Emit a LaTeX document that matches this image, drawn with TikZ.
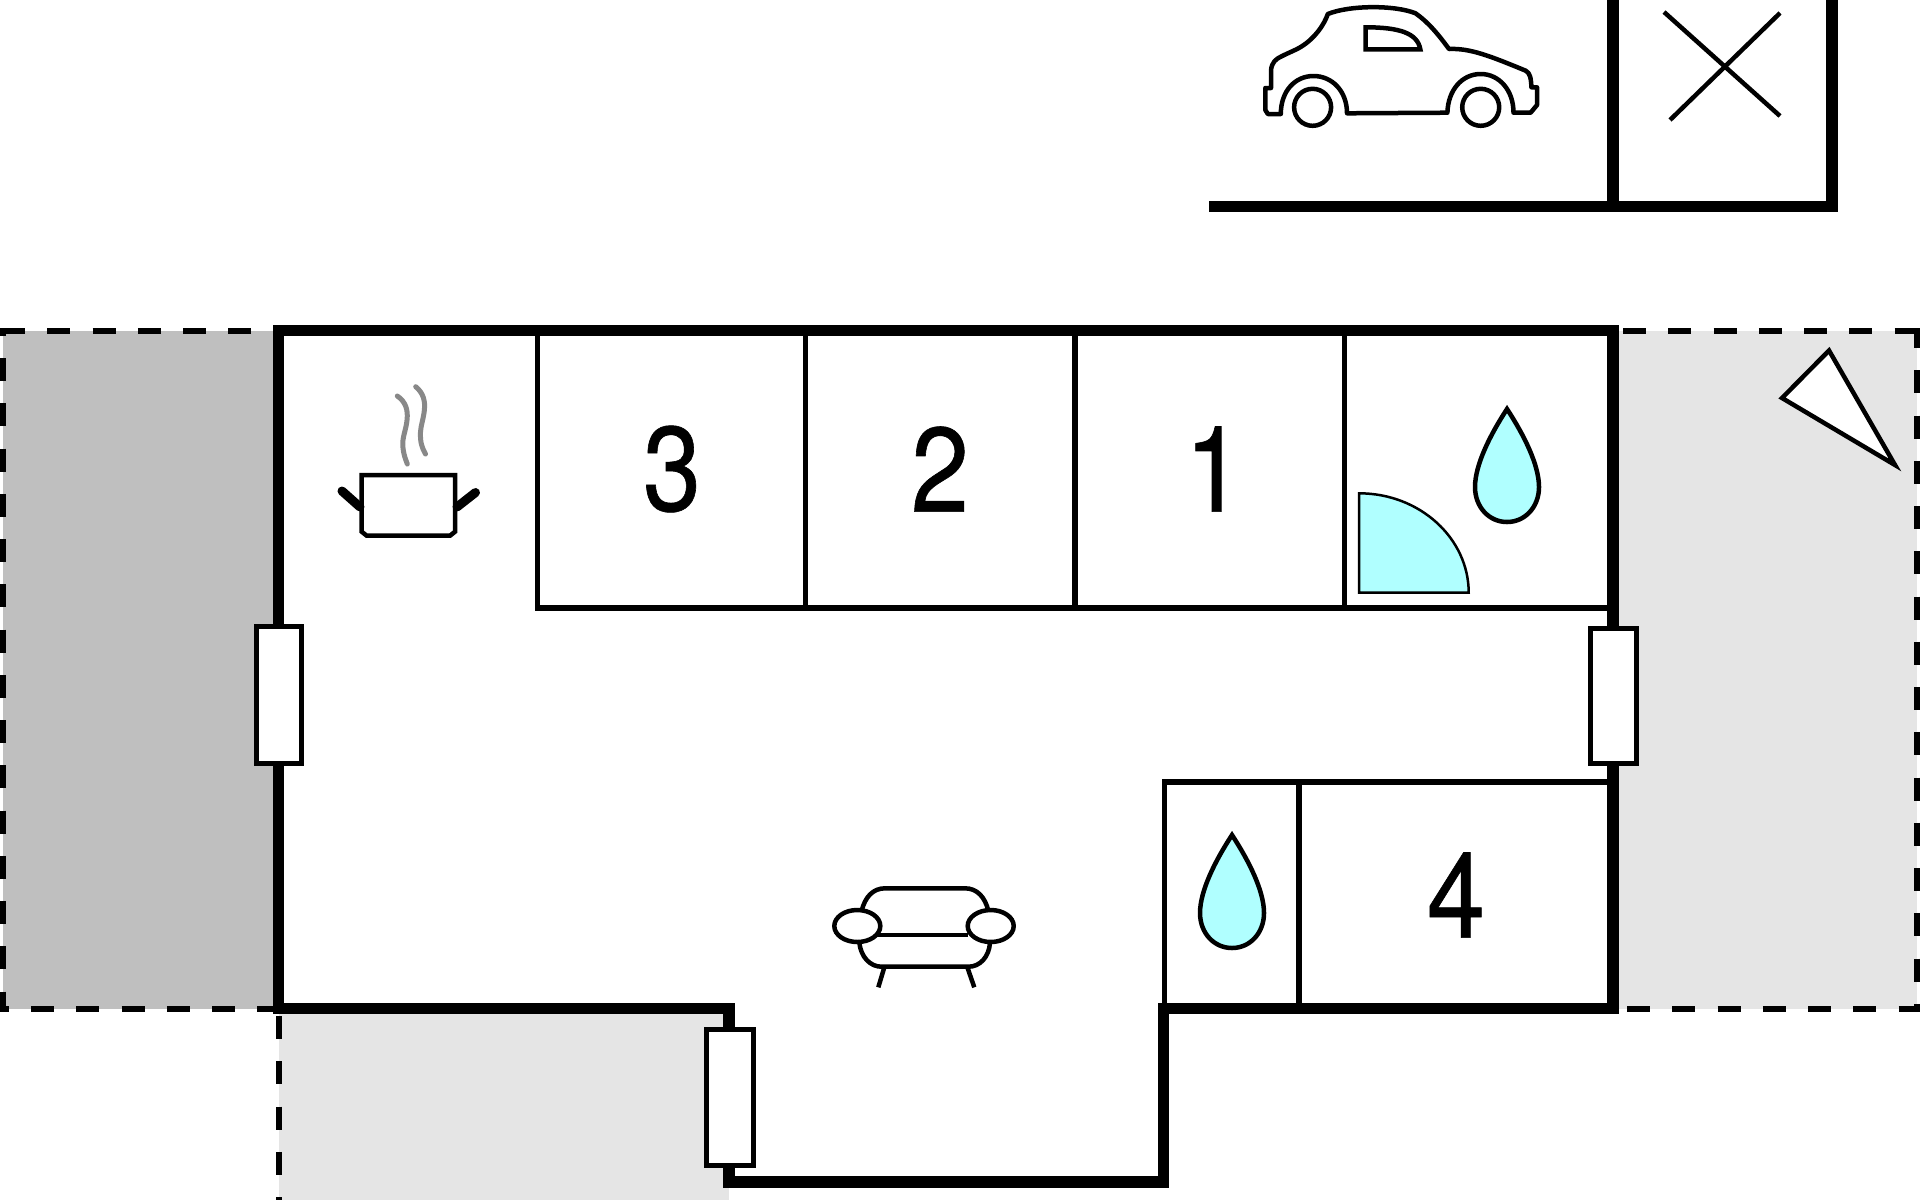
\documentclass[tikz,border=0pt]{standalone}
\usepackage{fontspec}
\setmainfont{Liberation Sans}
\newfontfamily\digitfont[FakeStretch=0.87, FakeBold=0.5]{TeX Gyre Heros}

\definecolor{terracedark}{HTML}{BFBFBF}
\definecolor{terracelight}{HTML}{E5E5E5}
\definecolor{wetblue}{HTML}{B0FFFF}
\definecolor{steamgrey}{HTML}{888888}

\tikzset{
    wall/.style={line width=5.75pt, line join=miter},
    partition/.style={line width=2.75pt},
    boundary/.style={line width=3pt, dash pattern=on 11.5pt off 11.125pt},
    casement/.style={line width=2.5pt, fill=white},
    symbolline/.style={line width=2.25pt},
    digit/.style={inner sep=0pt, font=\digitfont\fontsize{60}{60}\selectfont},
    waterdrop/.pic={
        \filldraw[symbolline, fill=wetblue] (0, 0) .. controls (-17, 26) and (-32, 56) .. (-32, 78)
            .. controls (-32, 98) and (-18, 113) .. (0, 113)
            .. controls (18, 113) and (32, 98) .. (32, 78)
            .. controls (32, 56) and (17, 26) .. cycle;
    }
}

\begin{document}
\begin{tikzpicture}[x=0.5pt, y=-0.5pt]
        \useasboundingbox (0, 0) rectangle (1920, 1200);

        \fill[terracedark] (3, 331) rectangle (279, 1008.5);
        \fill[terracelight] (1613, 331) rectangle (1917, 1009);
        \fill[terracelight] (279, 1008) rectangle (729, 1200);

        \draw[boundary] (2, 331) to (272, 331);
        \draw[boundary, dash phase=7.6pt] (2.8, 328) to (2.8, 1011);
        \draw[boundary, dash phase=7.1pt] (0, 1008.5) to (280, 1008.5);
        \draw[boundary] (1623, 331) to (1917.5, 331);
        \draw[boundary, dash phase=1.5pt] (1917, 328) to (1917, 1011);
        \draw[boundary] (1627, 1008.5) to (1920, 1008.5);
        \draw[boundary] (279, 1016) to (279, 1200);

        \draw[partition] (537.5, 331) to (537.5, 608) to (1613, 608);
        \draw[partition] (805.7, 331) to (805.7, 608);
        \draw[partition] (1075, 331) to (1075, 608);
        \draw[partition] (1344.5, 331) to (1344.5, 608);
        \draw[partition] (1164.5, 1008) to (1164.5, 782) to (1613, 782);
        \draw[partition] (1299, 782) to (1299, 1008);

        \draw[wall] (278.5, 330.5) to (1613, 330.5) to (1613, 1008.5) to (1163.5, 1008.5) to (1163.5, 1182)
            to (729, 1182) to (729, 1008.5) to (278.5, 1008.5) to cycle;

        \draw[casement] (256.5, 626) rectangle (301, 763);
        \draw[casement] (1590, 628) rectangle (1636, 763.5);
        \draw[casement] (706.5, 1029) rectangle (753, 1165);

        \node[digit] (room3) at (672, 469) {3};
        \node[digit] (room2) at (940, 469) {2};
        \node[digit] (room1) at (1214, 469) {1};
        \node[digit] (room4) at (1456, 895) {4};

        \pic at (1507, 409) {waterdrop};
        \pic at (1232, 835) {waterdrop};
        \filldraw[line width=1.25pt, fill=wetblue] (1359.2, 493.3) .. controls (1419.7, 493.3) and (1468.7, 538.2) .. (1468.7, 592.7)
            to (1359.2, 592.7) to cycle;

        \filldraw[symbolline, fill=white] (1829, 350.5) to (1782, 398) to (1895, 465) to cycle;

        \draw[symbolline] (361.7, 475) to (455, 475) to (455, 531.7) to (450, 535.7) to (366.7, 535.7) to (361.7, 531.7) to cycle;
        \draw[line width=4.5pt, line cap=round] (342, 491) to (360, 507);
        \draw[line width=4.5pt, line cap=round] (475.5, 492.5) to (457, 507);
        \draw[steamgrey, line width=2.5pt, line cap=round] (397.3, 396) .. controls (415, 408) and (404, 430) .. (403, 440) .. controls (402, 450) and (405, 458) .. (407.3, 464);
        \draw[steamgrey, line width=2.5pt, line cap=round] (415.7, 386.7) .. controls (432, 400) and (421, 420) .. (420.5, 432) .. controls (420, 442) and (422, 448) .. (425.5, 454);

        \draw[symbolline] (861.7, 910.7) .. controls (865, 897) and (873, 888.3) .. (885, 888.3) to (965, 888.3)
            .. controls (977, 888.3) and (985, 897) .. (988.3, 910.7);
        \draw[symbolline] (878.3, 935) to (968.3, 935);
        \draw[symbolline] (859.3, 942.7) .. controls (861, 957) and (870, 966.7) .. (881.7, 966.7) to (968.3, 966.7)
            .. controls (980, 966.7) and (989, 957) .. (990, 942.7);
        \draw[symbolline] (884, 968.3) to (878.3, 987.3);
        \draw[symbolline] (967.7, 968.3) to (974.3, 987.3);
        \draw[symbolline] (857.3, 926) ellipse (23 and 16);
        \draw[symbolline] (990.7, 926) ellipse (23 and 16);

        \draw[wall] (1613, 0) to (1613, 206.5);
        \draw[wall] (1832, 0) to (1832, 206.5) to (1209, 206.5);
        \draw[symbolline] (1664, 12) to (1780, 116);
        \draw[symbolline] (1780, 13) to (1670, 120);

        \draw[symbolline, line join=round] (1280.8, 114) to (1267.8, 114) to (1265.3, 110) to (1265.3, 88) to (1271, 88) to (1271, 70)
            .. controls (1272, 62) and (1276, 59) .. (1280.8, 56.7)
            .. controls (1290, 52) and (1296, 50) .. (1301.2, 46.7)
            .. controls (1315, 38) and (1324, 25) .. (1327.8, 14)
            .. controls (1350, 5) and (1395, 5) .. (1415.5, 13.3)
            .. controls (1428, 22) and (1438, 34) .. (1449, 49)
            .. controls (1470, 48) and (1490, 56) .. (1525.7, 70.7)
            .. controls (1530, 73) and (1531, 78) .. (1531.4, 87.3)
            to (1537, 87.3) to (1537, 105) to (1530.6, 112.7) to (1513.5, 112.7)
            .. controls (1513.5, 90) and (1499, 74) .. (1480.7, 74)
            .. controls (1462, 74) and (1448, 90) .. (1447.4, 112.7)
            to (1347, 113.3)
            .. controls (1347, 91) and (1332, 76) .. (1313.5, 76)
            .. controls (1295, 76) and (1280.8, 91) .. (1280.8, 114) to cycle;
        \draw[symbolline] (1312.6, 107.3) circle (18.5);
        \draw[symbolline] (1480.7, 107.3) circle (18.5);
        \draw[symbolline] (1365.7, 27.3) to (1365.7, 49.3) to (1420.3, 49.3) .. controls (1417.5, 33) and (1399, 27.3) .. (1365.7, 27.3) to cycle;
    \end{tikzpicture}
\end{document}
